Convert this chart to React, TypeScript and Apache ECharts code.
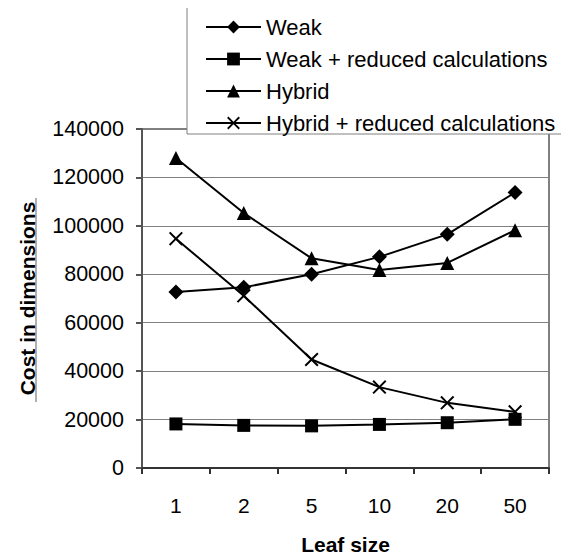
import React, { useEffect, useRef } from "react";
import * as echarts from "echarts";

const categories = ["1", "2", "5", "10", "20", "50"];
const weak = [72700, 74600, 80000, 87200, 96500, 113800];
const weakReduced = [18200, 17600, 17400, 18000, 18700, 20100];
const hybrid = [128000, 105300, 86600, 81800, 84700, 98200];
const hybridReduced = [94700, 71100, 44800, 33400, 26900, 23200];

const seriesNames = [
  "Weak",
  "Weak + reduced calculations",
  "Hybrid",
  "Hybrid + reduced calculations",
];

const FONT = "'Liberation Sans', Arial, sans-serif";
const CROSS = "path://M0,1L1,0L5,4L9,0L10,1L6,5L10,9L9,10L5,6L1,10L0,9L4,5Z";

export default function App() {
  const ref = useRef<HTMLDivElement>(null);
  useEffect(() => {
    if (!ref.current) return;
    const chart = echarts.init(ref.current, undefined, { renderer: "svg" });
    const mk = (name: string, data: number[], symbol: string, size: number) => ({
      name,
      type: "line",
      data,
      symbol,
      symbolSize: size,
      showSymbol: true,
      lineStyle: { color: "#000", width: 2 },
      itemStyle: { color: "#000" },
      z: 3,
    });
    chart.setOption({
      animation: false,
      backgroundColor: "#fff",
      textStyle: { fontFamily: FONT },
      grid: {
        left: 142,
        right: 20,
        top: 129,
        bottom: 88,
        show: true,
        borderColor: "#808080",
        borderWidth: 2,
        backgroundColor: "transparent",
      },
      legend: {
        orient: "vertical",
        left: 187,
        top: 7,
        padding: [9, 14, 0, 18],
        itemWidth: 55,
        itemHeight: 16,
        itemGap: 10,
        backgroundColor: "#fff",
        borderColor: "#808080",
        borderWidth: 1,
        borderRadius: 0,
        textStyle: { fontSize: 22, color: "#000", fontFamily: FONT, lineHeight: 22 },
        data: seriesNames,
        z: 10,
      },
      xAxis: {
        type: "category",
        data: categories,
        boundaryGap: true,
        name: "Leaf size",
        nameLocation: "middle",
        nameGap: 66,
        nameTextStyle: { fontSize: 21, fontWeight: "bold", color: "#000", fontFamily: FONT },
        axisLine: { lineStyle: { color: "#333", width: 2 } },
        axisTick: { show: true, length: 6, lineStyle: { color: "#333", width: 2 } },
        axisLabel: { fontSize: 21, color: "#000", margin: 27, fontFamily: FONT },
        splitLine: { show: false },
      },
      yAxis: {
        type: "value",
        min: 0,
        max: 140000,
        interval: 20000,
        name: "Cost in dimensions",
        nameLocation: "middle",
        nameRotate: 90,
        nameGap: 104,
        nameTextStyle: { fontSize: 21, fontWeight: "bold", color: "#000", fontFamily: FONT },
        axisLine: { show: true, lineStyle: { color: "#555", width: 2 } },
        axisTick: { show: true, length: 6, lineStyle: { color: "#555", width: 2 } },
        axisLabel: {
          fontSize: 21.5,
          color: "#000",
          margin: 18,
          fontFamily: FONT,
          formatter: (v: number) => String(v),
        },
        splitLine: { show: true, lineStyle: { color: "#808080", width: 1 } },
      },
      graphic: [
        {
          type: "rect",
          shape: { x: 35, y: 198, width: 2, height: 204 },
          style: { fill: "#b0b0b0" },
          z: 0,
        },
      ],
      series: [
        mk(seriesNames[0], weak, "diamond", 15),
        mk(seriesNames[1], weakReduced, "rect", 13),
        mk(seriesNames[2], hybrid, "triangle", 14),
        mk(seriesNames[3], hybridReduced, CROSS, 14),
      ],
    });
    return () => chart.dispose();
  }, []);
  return <div ref={ref} style={{ width: 569, height: 560, margin: -8 }} />;
}
